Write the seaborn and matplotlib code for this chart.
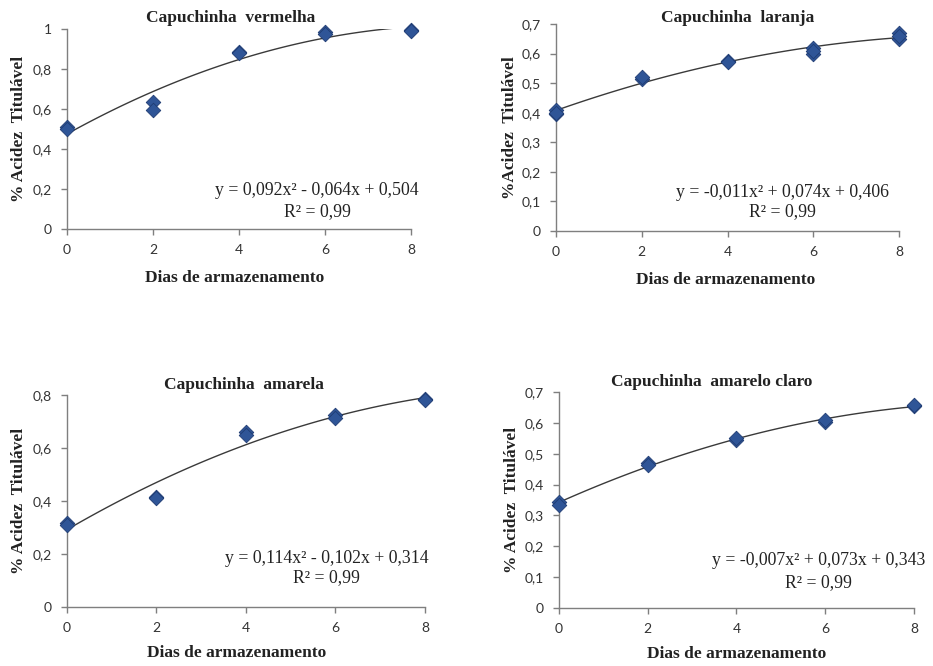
import numpy as np
import pandas as pd
import seaborn as sns
import matplotlib.pyplot as plt
from matplotlib.ticker import FuncFormatter, MultipleLocator

sns.set_style("ticks")
plt.rcParams['font.family'] = ['Liberation Serif', 'DejaVu Serif']

# Data (replicates per storage day)
dias_vermelha = [0, 0, 2, 2, 4, 4, 6, 6, 8, 8]
acidez_vermelha = [0.51, 0.50, 0.635, 0.595, 0.885, 0.88, 0.985, 0.975, 0.995, 0.99]

dias_laranja = [0, 0, 0, 2, 2, 4, 4, 6, 6, 6, 8, 8, 8]
acidez_laranja = [0.41, 0.395, 0.40, 0.515, 0.52, 0.575, 0.57, 0.62, 0.60, 0.61, 0.67, 0.65, 0.66]

dias_amarela = [0, 0, 2, 2, 4, 4, 6, 6, 8, 8]
acidez_amarela = [0.317, 0.31, 0.415, 0.41, 0.66, 0.65, 0.725, 0.715, 0.785, 0.78]

dias_claro = [0, 0, 2, 2, 4, 4, 6, 6, 8, 8]
acidez_claro = [0.343, 0.334, 0.47, 0.462, 0.544, 0.55, 0.603, 0.61, 0.655, 0.657]

titulos = ["Capuchinha  vermelha", "Capuchinha  laranja",
           "Capuchinha  amarela", "Capuchinha  amarelo claro"]
equacoes = ["y = 0,092x² - 0,064x + 0,504", "y = -0,011x² + 0,074x + 0,406",
            "y = 0,114x² - 0,102x + 0,314", "y = -0,007x² + 0,073x + 0,343"]
r2_txt = "R² = 0,99"
ylabels = ["% Acidez  Titulável", "%Acidez  Titulável",
           "% Acidez  Titulável", "% Acidez  Titulável"]
ymax = [1.0, 0.7, 0.8, 0.7]
ystep = [0.2, 0.1, 0.2, 0.1]

series = [(dias_vermelha, acidez_vermelha), (dias_laranja, acidez_laranja),
          (dias_amarela, acidez_amarela), (dias_claro, acidez_claro)]

# layout (figure fractions) and text positions (axes fractions)
boxes = [[0.0718, 0.6562, 0.3687, 0.3003],
         [0.5960, 0.6532, 0.3676, 0.3108],
         [0.0718, 0.0886, 0.3837, 0.3183],
         [0.5991, 0.0871, 0.3805, 0.3243]]
title_pos = [(0.477, 1.055), (0.528, 1.029), (0.495, 1.047), (0.43, 1.046)]
eq_pos = [(0.727, 0.19, 0.085), (0.659, 0.188, 0.092),
          (0.726, 0.231, 0.137), (0.732, 0.222, 0.116)]
ylab_x = [-0.116, -0.112, -0.112, -0.11]
xlab_y = [-0.205, -0.198, -0.179, -0.176]
xlab_x = [0.488, 0.493, 0.475, 0.50]

fig = plt.figure(figsize=(9.33, 6.66), dpi=100)
fmt = FuncFormatter(lambda v, p: f"{v:.1f}".rstrip('0').rstrip('.').replace('.', ',') if v != 0 else "0")

for i, (dias, acidez) in enumerate(series):
    ax = fig.add_axes(boxes[i])
    df = pd.DataFrame({'dias': dias, 'acidez': acidez})
    sns.regplot(data=df, x='dias', y='acidez', order=2, ci=None, scatter=False,
                line_kws={'color': '#3a3a3a', 'lw': 1.0}, ax=ax)
    sns.scatterplot(data=df, x='dias', y='acidez', marker='D', s=55,
                    color='#2f5597', edgecolor='#1f3c73', linewidth=0.6,
                    clip_on=False, zorder=3, ax=ax)
    ax.set_xlim(0, 8)
    ax.set_ylim(0, ymax[i])
    ax.xaxis.set_major_locator(MultipleLocator(2))
    ax.yaxis.set_major_locator(MultipleLocator(ystep[i]))
    ax.yaxis.set_major_formatter(fmt)
    sns.despine(ax=ax)
    for s in ['left', 'bottom']:
        ax.spines[s].set_color('#7f7f7f')
        ax.spines[s].set_linewidth(1.0)
    ax.tick_params(direction='out', length=4, width=1, color='#7f7f7f',
                   labelsize=10, labelcolor='#333333', pad=7)
    for lab in ax.get_xticklabels() + ax.get_yticklabels():
        lab.set_family(['Lato', 'DejaVu Sans'])
    ax.set_xlabel("Dias de armazenamento", fontsize=12.5, fontweight='bold', color='#222222')
    ax.set_ylabel(ylabels[i], fontsize=12.5, fontweight='bold', color='#222222')
    ax.xaxis.set_label_coords(xlab_x[i], xlab_y[i])
    ax.yaxis.set_label_coords(ylab_x[i], 0.5)
    tx, ty = title_pos[i]
    ax.text(tx, ty, titulos[i], transform=ax.transAxes, ha='center', va='center',
            fontsize=12.5, fontweight='bold', color='#222222')
    ex, ey, ry = eq_pos[i]
    ax.text(ex, ey, equacoes[i], transform=ax.transAxes, ha='center', va='center',
            fontsize=12.8, color='#222222')
    ax.text(ex, ry, r2_txt, transform=ax.transAxes, ha='center', va='center',
            fontsize=12.8, color='#222222')

fig.savefig("out.png", dpi=100)
